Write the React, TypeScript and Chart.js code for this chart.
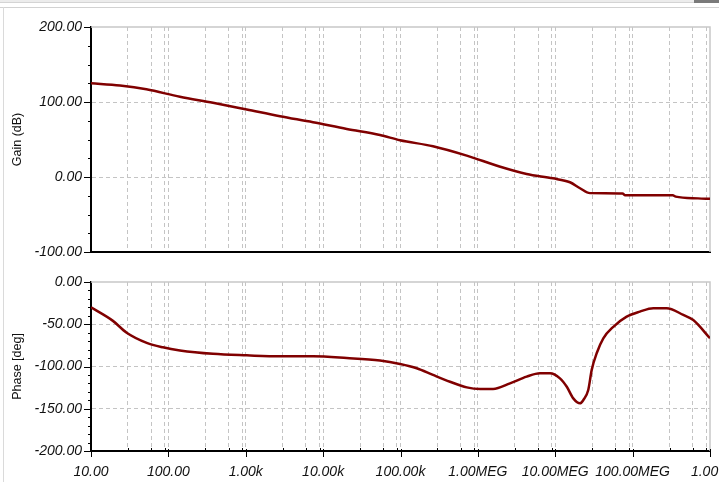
import React, { useEffect, useRef } from "react";
import { Chart, registerables } from "chart.js";
Chart.register(...registerables);

// ---- data ----
const decadeValues = [10, 100, 1e3, 1e4, 1e5, 1e6, 1e7, 1e8, 1e9];
const decadeLabels = ["10.00", "100.00", "1.00k", "10.00k", "100.00k", "1.00MEG", "10.00MEG", "100.00MEG", "1.00G"];
const gridMultipliers = [3, 6, 9];

const gainFreq = [10, 23.7, 52, 141, 377, 1030, 2770, 7400, 20200, 54300, 98600, 263000, 718000, 1.9e6, 4.27e6, 9.3e6, 15.5e6, 20.9e6, 28.1e6, 74e6, 80e6, 330e6, 360e6, 700e6, 1e9];
const gainDb = [125, 122, 117, 107, 99, 90, 81, 73, 64, 56, 49, 41, 28.5, 14, 4, -1.8, -7, -15, -21.5, -22, -24.4, -24.4, -26.2, -28.5, -29];

const phaseFreq = [10, 19.2, 28.9, 52.5, 85, 141, 377, 1030, 2770, 7400, 20200, 54300, 98600, 162000, 263000, 436000, 718000, 1.07e6, 1.57e6, 2.6e6, 4.27e6, 6.35e6, 8.55e6, 11.5e6, 14.1e6, 17.1e6, 20.9e6, 23.1e6, 26.7e6, 29.6e6, 34.4e6, 41.8e6, 56.3e6, 83.8e6, 124e6, 185e6, 275e6, 452e6, 608e6, 1e9];
const phaseDeg = [-30, -46, -60, -72, -77.3, -81, -85, -86.8, -88, -88, -90, -93, -97, -102, -110, -118, -124.7, -126.6, -126.6, -120, -112, -108, -108, -114, -124, -137.7, -143.6, -139.6, -127.8, -104, -84, -66.6, -53, -41, -35, -31, -31, -39, -45, -66.6];

const gainTicks = [-100, -75, -50, -25, 0, 25, 50, 75, 100, 125, 150, 175, 200];
const gainLabelStep = 100;
const phaseTicks = [-200, -190, -180, -170, -160, -150, -140, -130, -120, -110, -100, -90, -80, -70, -60, -50, -40, -30, -20, -10, 0];
const phaseLabelStep = 50;

// ---- style ----
const LINE = "#800000";
const GRID = "#c4c4c4";
const AXIS = "#000000";
const FRAME = "#c8c8c8";
const TEXT = "#111111";
const LABEL_FONT = { family: "Arial, 'Liberation Sans', sans-serif", size: 14, style: "italic" as const, weight: "normal" as const };
const TITLE_FONT = { family: "Arial, 'Liberation Sans', sans-serif", size: 12.5, style: "normal" as const };
const CANVAS_W = 760;
const PLOT_RIGHT = 710;
const Y_AXIS_W = 91;

Chart.defaults.font.family = LABEL_FONT.family;
Chart.defaults.font.style = "italic";

const xTickValues: number[] = [];
decadeValues.forEach((d, i) => {
  xTickValues.push(d);
  if (i < decadeValues.length - 1) gridMultipliers.forEach((m) => xTickValues.push(d * m));
});
const decadeIndex = (v: number) => decadeValues.findIndex((d) => Math.abs(v / d - 1) < 1e-9);

const panelPlugin = {
  id: "panelDeco",
  beforeDatasetsDraw(chart: any) {
    const { ctx, chartArea: a } = chart;
    ctx.save();
    ctx.strokeStyle = FRAME;
    ctx.lineWidth = 1.5;
    ctx.beginPath();
    ctx.moveTo(a.left, a.top);
    ctx.lineTo(a.right, a.top);
    ctx.lineTo(a.right, a.bottom);
    ctx.stroke();
    ctx.restore();
  },
  afterDraw(chart: any, _args: any, opts: any) {
    const { ctx, chartArea: a } = chart;
    const ys = chart.scales.y;
    const xs = chart.scales.x;
    ctx.save();
    ctx.strokeStyle = AXIS;
    ctx.lineWidth = 1;
    ys.ticks.forEach((t: any) => {
      const py = Math.round(ys.getPixelForValue(t.value)) + 0.5;
      const major = Math.abs(t.value % opts.yStep) < 1e-9;
      ctx.beginPath();
      ctx.moveTo(a.left - (major ? 7 : 3), py);
      ctx.lineTo(a.left, py);
      ctx.stroke();
    });
    if (opts.xTicks) {
      xs.ticks.forEach((t: any) => {
        const px = Math.round(xs.getPixelForValue(t.value)) + 0.5;
        const major = decadeIndex(t.value) >= 0;
        ctx.beginPath();
        ctx.moveTo(px, a.bottom + (major ? -2 : -3));
        ctx.lineTo(px, a.bottom + (major ? 6 : 1));
        ctx.stroke();
      });
    }
    ctx.restore();
  },
};

function makeConfig(kind: "gain" | "phase") {
  const isGain = kind === "gain";
  const fx = isGain ? gainFreq : phaseFreq;
  const fy = isGain ? gainDb : phaseDeg;
  const yTicks = isGain ? gainTicks : phaseTicks;
  const yStep = isGain ? gainLabelStep : phaseLabelStep;
  const yMin = yTicks[0];
  const yMax = yTicks[yTicks.length - 1];
  return {
    type: "line" as const,
    data: {
      datasets: [
        {
          data: fx.map((f, i) => ({ x: f, y: fy[i] })),
          borderColor: LINE,
          borderWidth: 2.5,
          pointRadius: 0,
          cubicInterpolationMode: "monotone" as const,
          fill: false,
        },
      ],
    },
    plugins: [panelPlugin],
    options: {
      animation: false as const,
      responsive: false,
      events: [],
      font: LABEL_FONT,
      layout: {
        padding: isGain
          ? { left: 0, right: CANVAS_W - PLOT_RIGHT, top: 27, bottom: 0 }
          : { left: 0, right: CANVAS_W - PLOT_RIGHT, top: 20, bottom: 0 },
      },
      plugins: {
        legend: { display: false },
        tooltip: { enabled: false },
        panelDeco: { yStep, xTicks: !isGain },
      },
      scales: {
        x: {
          type: "logarithmic" as const,
          min: decadeValues[0],
          max: decadeValues[decadeValues.length - 1],
          afterBuildTicks: (s: any) => {
            s.ticks = xTickValues.map((v) => ({ value: v, major: false }));
          },
          afterFit: (s: any) => {
            s.height = isGain ? 10 : 31;
          },
          ticks: {
            display: !isGain,
            autoSkip: false,
            maxRotation: 0,
            minRotation: 0,
            padding: 13,
            color: TEXT,
            font: LABEL_FONT,
            callback: (v: any) => {
              const i = decadeIndex(Number(v));
              return i >= 0 ? decadeLabels[i] : "";
            },
          },
          grid: {
            drawTicks: false,
            lineWidth: 1,
            color: (c: any) => {
              const v = c.tick ? c.tick.value : 0;
              if (v <= decadeValues[0] * 1.0001 || v >= decadeValues[decadeValues.length - 1] * 0.9999) return "rgba(0,0,0,0)";
              return GRID;
            },
          },
          border: { color: AXIS, width: 2, dash: [4, 3] },
        },
        y: {
          type: "linear" as const,
          min: yMin,
          max: yMax,
          afterBuildTicks: (s: any) => {
            s.ticks = yTicks.map((v) => ({ value: v }));
          },
          afterFit: (s: any) => {
            s.width = Y_AXIS_W;
            s.paddingTop = 0;
            s.paddingBottom = 0;
          },
          ticks: {
            autoSkip: false,
            padding: 9,
            color: TEXT,
            font: LABEL_FONT,
            callback: (v: any) => (Math.abs(Number(v) % yStep) < 1e-9 ? Number(v).toFixed(2) : ""),
          },
          grid: {
            drawTicks: false,
            lineWidth: 1,
            color: (c: any) => {
              const v = c.tick ? c.tick.value : 0;
              if (v === yMin || v === yMax) return "rgba(0,0,0,0)";
              return Math.abs(v % yStep) < 1e-9 ? GRID : "rgba(0,0,0,0)";
            },
          },
          border: { color: AXIS, width: 2, dash: [4, 3] },
          title: {
            display: true,
            text: isGain ? "Gain (dB)" : "Phase [deg]",
            color: TEXT,
            font: TITLE_FONT,
            padding: { top: 10, bottom: 0 },
          },
        },
      },
    },
  };
}

export default function App() {
  const gainRef = useRef<HTMLCanvasElement>(null);
  const phaseRef = useRef<HTMLCanvasElement>(null);

  useEffect(() => {
    const c1 = new Chart(gainRef.current as HTMLCanvasElement, makeConfig("gain") as any);
    const c2 = new Chart(phaseRef.current as HTMLCanvasElement, makeConfig("phase") as any);
    return () => {
      c1.destroy();
      c2.destroy();
    };
  }, []);

  return (
    <div style={{ position: "absolute", left: 0, top: 0, width: 719, height: 482, overflow: "hidden", background: "#fff" }}>
      <div style={{ position: "absolute", left: 0, top: 0, width: 719, height: 2, background: "#ececec", borderBottom: "1px solid #d4d4d4" }} />
      <div style={{ position: "absolute", left: 694, top: 0, width: 25, height: 3, background: "#7a7a7a" }} />
      <div style={{ position: "absolute", left: 0, top: 7, width: 719, height: 1, background: "#d2d2d2" }} />
      <div style={{ position: "absolute", left: 3, top: 7, width: 1, height: 475, background: "#dadada" }} />
      <canvas ref={gainRef} width={CANVAS_W} height={262} style={{ position: "absolute", left: 0, top: 0, width: CANVAS_W, height: 262 }} />
      <canvas ref={phaseRef} width={CANVAS_W} height={220} style={{ position: "absolute", left: 0, top: 262, width: CANVAS_W, height: 220 }} />
    </div>
  );
}
